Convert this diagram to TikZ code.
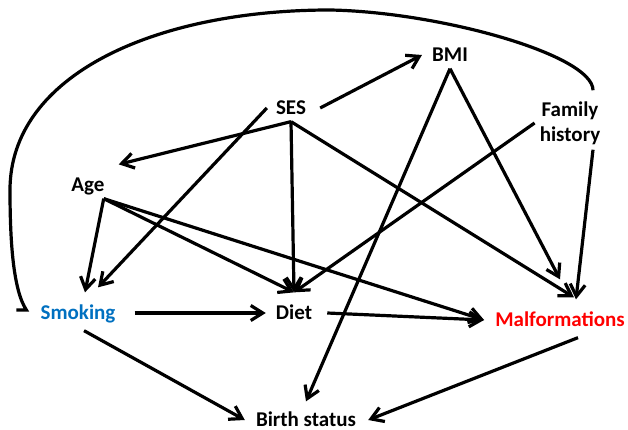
\documentclass[tikz,border=0pt]{standalone}
\usepackage{fontspec}
\setmainfont{Carlito}
\usetikzlibrary{arrows.meta}
\definecolor{smokeblue}{RGB}{0,112,192}
\definecolor{malfred}{RGB}{255,0,0}

\begin{document}
\begin{tikzpicture}[x=1pt,y=-1pt]
		\tikzstyle{var}=[font=\fontsize{21}{25}\selectfont\bfseries,inner sep=5pt,align=center]
		\tikzstyle{word}=[var,text height=14.5pt,text depth=2.4pt]
		\tikzstyle{link}=[line width=3.2pt]
		\tikzstyle{cause}=[link,arrows={-Straight Barb[length=12pt,width=15pt]}]
		
		\useasboundingbox (0,0) rectangle (628,430);
		
		\node[word] (ses) at (291,108) {SES};
		\node[word] (bmi) at (450,55) {BMI};
		\node[var] (fam) at (570,123) {Family\\history};
		\node[word] (age) at (88,185) {Age};
		\node[word,text=smokeblue] (smk) at (78,313) {Smoking};
		\node[word] (diet) at (294,313) {Diet};
		\node[word,text=malfred] (malf) at (560,320) {Malformations};
		\node[word] (birth) at (306,420) {Birth status};
		
		% from SES
		\draw[cause] ([xshift=9pt]ses.east) -- ([xshift=-5pt]bmi.west);
		\draw[cause] (ses.south) -- ([shift={(9pt,7pt)}]age.north east);
		\draw[cause] ([xshift=-4pt]ses.west) -- ([shift={(20pt,12pt)}]smk.north);
		\draw[cause] (ses.south) -- ([yshift=7pt]diet.north);
		\draw[cause] (ses.south) -- ([shift={(14pt,9pt)}]malf.north);
		
		% from BMI and family history
		\draw[cause] (bmi.south) -- ([yshift=5pt]birth.north);
		\draw[cause] (bmi.south) -- ([yshift=27pt]malf.north);
		\draw[cause] (fam.west) -- ([yshift=7pt]diet.north);
		\draw[cause] ([xshift=23pt]fam.south) -- ([shift={(16pt,7pt)}]malf.north);
		\draw[link] ([shift={(-19pt,3pt)}]smk.west) -- ++(10pt,0pt)
			.. controls (13,290) and (10,240) .. (10,190)
			.. controls (10,75) and (155,10) .. (330,10)
			.. controls (440,12) and (593,55) .. ([xshift=23pt,yshift=6pt]fam.north);
		
		% from age
		\draw[cause] ([xshift=-6pt]age.south east) -- ([shift={(7pt,7pt)}]smk.north);
		\draw[cause] ([xshift=-6pt]age.south east) -- ([yshift=7pt]diet.north);
		\draw[cause] ([xshift=-6pt]age.south east) -- ([xshift=-6pt]malf.west);
		
		% lower row
		\draw[cause] ([xshift=14pt]smk.east) -- ([xshift=-5pt]diet.west);
		\draw[cause] ([xshift=10pt]diet.east) -- ([xshift=-6pt]malf.west);
		\draw[cause] ([shift={(6pt,-4pt)}]smk.south) -- ([xshift=-6pt]birth.west);
		\draw[cause] ([shift={(18pt,-4pt)}]malf.south) -- ([xshift=7pt]birth.east);
\end{tikzpicture}
\end{document}
